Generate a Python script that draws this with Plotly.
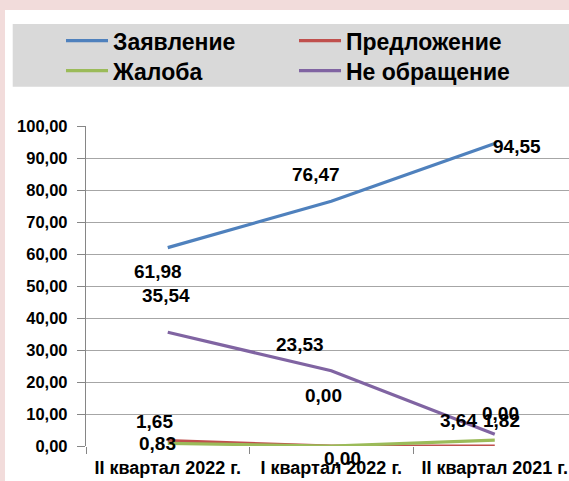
import plotly.graph_objects as go

categories = ["II квартал 2022 г.", "I квартал 2022 г.", "II квартал 2021 г."]
series_names = ["Заявление", "Предложение", "Жалоба", "Не обращение"]
zayavlenie = [61.98, 76.47, 94.55]
predlozhenie = [1.65, 0.00, 0.00]
zhaloba = [0.83, 0.00, 1.82]
ne_obrashchenie = [35.54, 23.53, 3.64]
y_tickvals = [0, 10, 20, 30, 40, 50, 60, 70, 80, 90, 100]
y_ticktext = ["0,00", "10,00", "20,00", "30,00", "40,00", "50,00", "60,00",
              "70,00", "80,00", "90,00", "100,00"]

colors = ["#4F81BD", "#C0504D", "#9BBB59", "#8064A2"]
values = [zayavlenie, predlozhenie, zhaloba, ne_obrashchenie]

# label offsets (px) per series / point
label_shifts = [
    [(-10, -24), (-15, 27), (22, -3)],
    [(-13, 19), (-8, 51), (6, 33)],
    [(-10, 0), (11, -12), (7, 20)],
    [(-2, 37), (-31, 26), (-36, 14)],
]

W, H = 569, 481
L, R, T, B = 86, 0, 126, 35
pw = W - L - R
ph = H - T - B

FONT = "Liberation Sans, Arial, sans-serif"

fig = go.Figure()
legend_ids = ["legend", "legend2", "legend3", "legend4"]
for i, (name, vals) in enumerate(zip(series_names, values)):
    fig.add_trace(go.Scatter(
        x=categories, y=vals, name=name, mode="lines",
        line=dict(color=colors[i], width=3.2),
        legend=legend_ids[i], hoverinfo="skip",
    ))

annotations = []
for i, vals in enumerate(values):
    for j, v in enumerate(vals):
        xs, ys = label_shifts[i][j]
        annotations.append(dict(
            x=categories[j], y=v, xref="x", yref="y",
            text=f"{v:.2f}".replace(".", ","), showarrow=False,
            xshift=xs, yshift=ys,
            font=dict(family=FONT, size=19, color="black", weight="bold"),
        ))

def px_x(p):
    return (p - L) / pw

def px_y(p):
    return (H - B - p) / ph

shapes = [
    dict(type="rect", xref="paper", yref="paper", layer="below",
         x0=px_x(5), x1=px_x(W + 5), y0=px_y(10), y1=px_y(H + 5),
         fillcolor="white", line=dict(width=0)),
    dict(type="rect", xref="paper", yref="paper", layer="below",
         x0=px_x(12.7), x1=px_x(W + 5), y0=px_y(24), y1=px_y(86.7),
         fillcolor="#D9D9D9", line=dict(width=0)),
]

leg_pos = [(61, 40.7), (294, 40.7), (61, 70.7), (294, 70.7)]
layout_legends = {}
for lid, (lx, ly) in zip(legend_ids, leg_pos):
    layout_legends[lid] = dict(
        x=px_x(lx), y=px_y(ly), xref="paper", yref="paper",
        xanchor="left", yanchor="middle", bgcolor="rgba(0,0,0,0)",
        borderwidth=0, itemwidth=42,
        font=dict(family=FONT, size=23, color="black", weight="bold"),
    )

fig.update_layout(
    width=W, height=H,
    margin=dict(l=L, r=R, t=T, b=B, pad=0, autoexpand=False),
    paper_bgcolor="#F2DCDB", plot_bgcolor="rgba(0,0,0,0)",
    showlegend=True,
    shapes=shapes, annotations=annotations,
    **layout_legends,
)
fig.update_xaxes(
    type="category", range=[-0.5, 2.454], tickson="boundaries",
    ticks="outside", ticklen=7, tickcolor="#868686", tickwidth=1.3,
    showgrid=False, showline=False, zeroline=False,
    tickfont=dict(family=FONT, size=18, color="black", weight="bold"),
    ticklabelstandoff=9,
)
fig.update_yaxes(
    range=[0, 100], tickvals=y_tickvals, ticktext=y_ticktext,
    ticks="outside", ticklen=8, tickcolor="#868686", tickwidth=1.3,
    showgrid=True, gridcolor="#A6A6A6", gridwidth=1.3,
    showline=True, linecolor="#868686", linewidth=1.3,
    zeroline=False,
    tickfont=dict(family=FONT, size=16.5, color="black", weight="bold"),
    ticklabelstandoff=6,
)

fig.write_html(
    "out.html",
    config={"displayModeBar": False},
    post_script="document.body.style.margin='0';document.body.style.overflow='hidden';",
)
